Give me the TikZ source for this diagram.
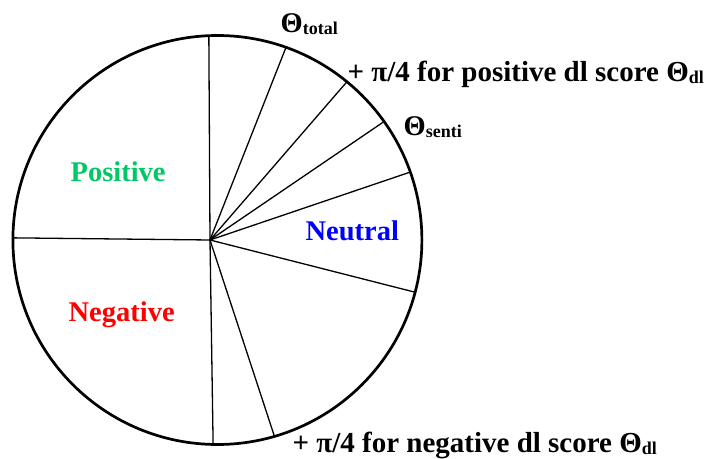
\documentclass[tikz,border=0pt]{standalone}
\usepackage{fontspec}
\setmainfont{Liberation Serif}
\definecolor{posgreen}{HTML}{00C864}
\definecolor{neublue}{HTML}{0000FF}
\definecolor{negred}{HTML}{FF0000}
\newcommand{\thsub}[1]{\raisebox{-2pt}{\fontsize{18}{18}\selectfont #1}}

\begin{document}
\begin{tikzpicture}[x=1pt, y=1pt, line width=1.3pt,
    lbl/.style={font=\fontsize{28.5}{30}\selectfont\bfseries, inner sep=0pt, anchor=base west},
    longlbl/.style={lbl, font=\fontsize{29}{30}\selectfont\bfseries}]
    \def\cx{217.4}\def\cy{218}\def\rr{204.5}
    \useasboundingbox (0,0) rectangle (712,458);
    \coordinate (hub) at (210,218);
    \coordinate (ctr) at (\cx,\cy);
    % rim points of the slices
    \foreach \nm/\ang in {top/92.4, tot/70.4, pdl/50.7, sen/35.4, neu/19.4,
                          low/-14.8, ndl/-73.8, bot/-91.2, lft/179.4}
      \coordinate (\nm) at ([shift={(\ang:\rr)}]ctr);
    \foreach \nm in {top, tot, pdl, sen, neu, low, ndl, bot, lft}
      \draw (hub) -- (\nm);
    \draw[line width=2.7pt] (ctr) circle[radius=\rr];
    % labels
    \node[lbl, text=posgreen] (pos) at (70,276.3) {Positive};
    \node[lbl, text=neublue] (neut) at (305,217.3) {Neutral};
    \node[lbl, text=negred] (neg) at (68,136.3) {Negative};
    \node[lbl] (ttot) at (280,425) {Θ\thsub{total}};
    \node[longlbl] (tpdl) at (347,376.3) {+ π/4 for positive dl score Θ\thsub{dl}};
    \node[lbl] (tsen) at (403,322) {Θ\thsub{senti}};
    \node[longlbl] (tndl) at (292,6) {+ π/4 for negative dl score Θ\thsub{dl}};
  \end{tikzpicture}
\end{document}
